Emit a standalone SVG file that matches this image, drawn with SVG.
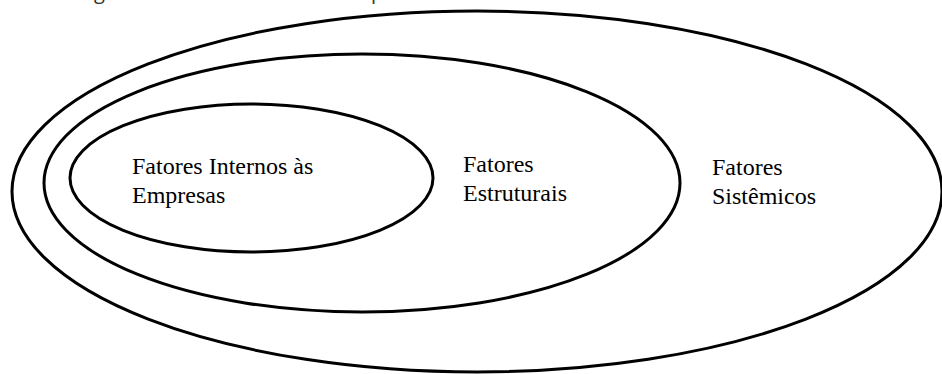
<svg xmlns="http://www.w3.org/2000/svg" width="942" height="374" viewBox="0 0 942 374">
<style>
.ring{fill:none;stroke:#000;stroke-width:3}
.lbl{font-family:"Liberation Serif","Times New Roman",serif;font-size:24px;fill:#000}
.cut{font-family:"Open Sans","Noto Sans",sans-serif;font-size:20px;fill:#333}
</style>
<rect width="942" height="374" fill="#fff"/>
<g id="title-fragment">
<text class="cut" x="94" y="-1">g</text>
<text class="cut" x="371" y="-1">p</text>
</g>
<g id="sistemicos">
<ellipse class="ring" cx="477" cy="191.5" rx="465" ry="180.5"/>
<text class="lbl" x="712" y="175">Fatores</text>
<text class="lbl" x="712" y="204">Sistêmicos</text>
</g>
<g id="estruturais">
<ellipse class="ring" cx="362" cy="183" rx="318" ry="129"/>
<text class="lbl" x="463" y="172">Fatores</text>
<text class="lbl" x="463" y="201">Estruturais</text>
</g>
<g id="internos">
<ellipse class="ring" cx="251.5" cy="178" rx="181.5" ry="74"/>
<text class="lbl" x="132" y="174">Fatores Internos às</text>
<text class="lbl" x="132" y="203">Empresas</text>
</g>
<g id="connectors"/>
</svg>
